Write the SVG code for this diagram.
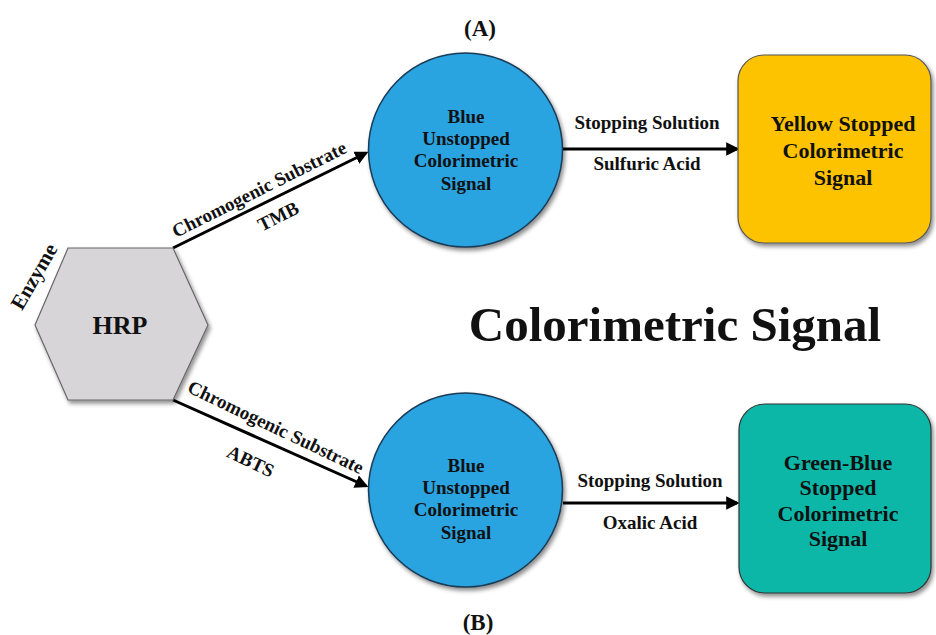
<svg xmlns="http://www.w3.org/2000/svg" width="936" height="635" viewBox="0 0 936 635">
<defs>
<style>
text{font-family:"Liberation Serif","DejaVu Serif",serif;font-weight:bold;fill:#111;text-anchor:middle}
.lbl{font-size:19px}
.node{font-size:19px}
.box{font-size:22px}
.conn{stroke:#000;stroke-width:3;fill:none;marker-end:url(#ah)}
</style>
<marker id="ah" viewBox="0 0 10 10" refX="8" refY="5" markerWidth="4.5" markerHeight="4.5" orient="auto" markerUnits="strokeWidth">
<path d="M0,0 L10,5 L0,10 z" fill="#000"/>
</marker>
<filter id="sh" x="-10%" y="-10%" width="125%" height="125%">
<feDropShadow dx="2" dy="3" stdDeviation="2" flood-color="#000" flood-opacity="0.45"/>
</filter>
</defs>
<rect width="936" height="635" fill="#fff"/>
<text x="480" y="36" style="font-size:23px">(A)</text>
<text x="478" y="630" style="font-size:23px">(B)</text>
<text x="675" y="341" style="font-size:49px">Colorimetric Signal</text>

<g id="connectors">
<line class="conn" x1="173" y1="248" x2="366" y2="153"/>
<line class="conn" x1="173" y1="400" x2="366" y2="486"/>
<line class="conn" x1="563" y1="149" x2="737" y2="149"/>
<line class="conn" x1="563" y1="503" x2="737" y2="503"/>
<text class="lbl" transform="translate(262,195) rotate(-26.5)">Chromogenic Substrate</text>
<text class="lbl" transform="translate(281,222) rotate(-26.5)">TMB</text>
<text class="lbl" transform="translate(273,433) rotate(25.5)">Chromogenic Substrate</text>
<text class="lbl" transform="translate(248,467) rotate(25.5)">ABTS</text>
<text class="lbl" x="647" y="129">Stopping Solution</text>
<text class="lbl" x="647" y="170">Sulfuric Acid</text>
<text class="lbl" x="650" y="487">Stopping Solution</text>
<text class="lbl" x="650" y="529">Oxalic Acid</text>
</g>

<g id="hrp">
<polygon points="68,248 173,248 208,325 173,400 68,400 35,325" fill="#d8d5d8" stroke="#666" stroke-width="1.2" filter="url(#sh)"/>
<text x="120" y="334" style="font-size:26px">HRP</text>
<text transform="translate(40,280) rotate(-60)" style="font-size:21px">Enzyme</text>
</g>

<g id="blue-top">
<circle cx="465.5" cy="150" r="97" fill="#29a3e1" stroke="#1a3a55" stroke-width="1.5" filter="url(#sh)"/>
<text class="node" x="466" y="123">Blue</text>
<text class="node" x="466" y="145">Unstopped</text>
<text class="node" x="466" y="167">Colorimetric</text>
<text class="node" x="466" y="190">Signal</text>
</g>

<g id="blue-bottom">
<circle cx="465.5" cy="490" r="97" fill="#29a3e1" stroke="#1a3a55" stroke-width="1.5" filter="url(#sh)"/>
<text class="node" x="466" y="472">Blue</text>
<text class="node" x="466" y="494">Unstopped</text>
<text class="node" x="466" y="516">Colorimetric</text>
<text class="node" x="466" y="539">Signal</text>
</g>

<g id="yellow">
<rect x="738" y="55" width="193" height="188" rx="26" fill="#fdc300" stroke="#555" stroke-width="1.2" filter="url(#sh)"/>
<text class="box" x="843" y="131">Yellow Stopped</text>
<text class="box" x="843" y="158">Colorimetric</text>
<text class="box" x="843" y="185">Signal</text>
</g>

<g id="green">
<rect x="739" y="404" width="192" height="189" rx="26" fill="#0db7a8" stroke="#333" stroke-width="1.2" filter="url(#sh)"/>
<text class="box" x="838" y="470">Green-Blue</text>
<text class="box" x="838" y="495">Stopped</text>
<text class="box" x="838" y="521">Colorimetric</text>
<text class="box" x="838" y="546">Signal</text>
</g>
</svg>
